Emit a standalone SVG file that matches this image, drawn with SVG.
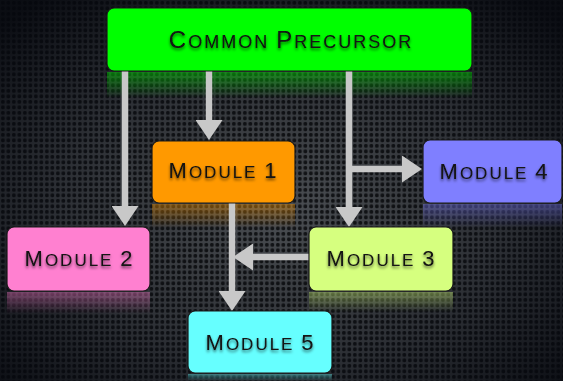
<svg xmlns="http://www.w3.org/2000/svg" width="563" height="381" viewBox="0 0 563 381">
  <defs>
    <!-- perforated metal texture -->
    <pattern id="mesh" width="5.5" height="5.5" patternUnits="userSpaceOnUse">
      <rect width="5.5" height="5.5" fill="#4f5358"/>
      <rect x="1" y="1" width="3.7" height="3.7" rx="1.4" fill="#141619"/>
    </pattern>
    <radialGradient id="spot" cx="0.5" cy="0.55" r="0.7">
      <stop offset="0" stop-color="#000" stop-opacity="0.05"/>
      <stop offset="0.55" stop-color="#05070d" stop-opacity="0.45"/>
      <stop offset="1" stop-color="#05070d" stop-opacity="0.92"/>
    </radialGradient>
    <linearGradient id="fade" x1="0" y1="0" x2="0" y2="1">
      <stop offset="0" stop-color="#fff" stop-opacity="0.55"/>
      <stop offset="1" stop-color="#fff" stop-opacity="0"/>
    </linearGradient>
    <mask id="reflMask" maskContentUnits="objectBoundingBox">
      <rect width="1" height="1" fill="url(#fade)"/>
    </mask>
    <filter id="txtShadow" x="-10%" y="-30%" width="120%" height="160%">
      <feGaussianBlur in="SourceAlpha" stdDeviation="1.6"/>
      <feOffset dx="0" dy="1.5" result="b"/>
      <feFlood flood-color="#000" flood-opacity="0.6"/>
      <feComposite in2="b" operator="in"/>
      <feMerge><feMergeNode/><feMergeNode in="SourceGraphic"/></feMerge>
    </filter>
    <marker id="head" markerUnits="userSpaceOnUse" markerWidth="21" markerHeight="27" refX="0" refY="13.5" orient="auto">
      <path d="M0,0 L20,13.5 L0,27 Z" fill="#c8c8c8"/>
    </marker>
    <style>
      .box { stroke: #1a1a1a; stroke-width: 1.2; }
      .lbl { font-family: "Liberation Sans", Arial, sans-serif; fill: #121212; text-anchor: middle; letter-spacing: 2px; }
      .big { font-size: 22px; }
      .sm { font-size: 17px; }
      .lbl-top .big { font-size: 24px; }
      .lbl-top .sm { font-size: 18px; }
      .refl { mask: url(#reflMask); }
      .conn line { stroke: #c8c8c8; stroke-width: 6.5; marker-end: url(#head); }
    </style>
  </defs>

  <!-- backdrop -->
  <rect width="563" height="381" fill="url(#mesh)"/>
  <rect width="563" height="381" fill="url(#spot)"/>

  <!-- floor reflections under the boxes -->
  <g id="reflections" opacity="0.75">
    <rect class="refl" x="107" y="72" width="365" height="26" fill="#00ff00"/>
    <rect class="refl" x="152" y="204" width="143" height="24" fill="#ff9900"/>
    <rect class="refl" x="423" y="204" width="139" height="24" fill="#7f7fff"/>
    <rect class="refl" x="7" y="292" width="143" height="22" fill="#ff80d0"/>
    <rect class="refl" x="309" y="292" width="144" height="20" fill="#d6ff7f"/>
    <rect class="refl" x="188" y="374" width="144" height="7" fill="#66ffff"/>
  </g>

  <!-- connectors -->
  <g id="connectors" class="conn">
    <line x1="125" y1="71" x2="125" y2="206"/>
    <line x1="209" y1="71" x2="209" y2="120"/>
    <line x1="349" y1="71" x2="349" y2="207"/>
    <line x1="349" y1="169" x2="402" y2="169"/>
    <line x1="232" y1="203" x2="232" y2="291"/>
    <line x1="309" y1="257" x2="253" y2="257"/>
  </g>

  <g id="common-precursor">
    <rect class="box" x="107" y="8" width="365" height="63" rx="7" fill="#00ff00"/>
    <text class="lbl lbl-top" x="291" y="48" filter="url(#txtShadow)"><tspan class="big">C</tspan><tspan class="sm">OMMON </tspan><tspan class="big">P</tspan><tspan class="sm">RECURSOR</tspan></text>
  </g>

  <g id="module-1">
    <rect class="box" x="152" y="141" width="143" height="62" rx="7" fill="#ff9900"/>
    <text class="lbl" x="223.5" y="178" filter="url(#txtShadow)"><tspan class="big">M</tspan><tspan class="sm">ODULE </tspan><tspan class="big">1</tspan></text>
  </g>

  <g id="module-4">
    <rect class="box" x="423" y="140" width="139" height="63" rx="7" fill="#7f7fff"/>
    <text class="lbl" x="494.5" y="179" filter="url(#txtShadow)"><tspan class="big">M</tspan><tspan class="sm">ODULE </tspan><tspan class="big">4</tspan></text>
  </g>

  <g id="module-2">
    <rect class="box" x="7" y="227" width="143" height="64" rx="7" fill="#ff80d0"/>
    <text class="lbl" x="79.5" y="266" filter="url(#txtShadow)"><tspan class="big">M</tspan><tspan class="sm">ODULE </tspan><tspan class="big">2</tspan></text>
  </g>

  <g id="module-3">
    <rect class="box" x="309" y="227" width="144" height="64" rx="7" fill="#d6ff7f"/>
    <text class="lbl" x="381.5" y="266" filter="url(#txtShadow)"><tspan class="big">M</tspan><tspan class="sm">ODULE </tspan><tspan class="big">3</tspan></text>
  </g>

  <g id="module-5">
    <rect class="box" x="188" y="311" width="144" height="62" rx="7" fill="#66ffff"/>
    <text class="lbl" x="260.5" y="350" filter="url(#txtShadow)"><tspan class="big">M</tspan><tspan class="sm">ODULE </tspan><tspan class="big">5</tspan></text>
  </g>
</svg>
